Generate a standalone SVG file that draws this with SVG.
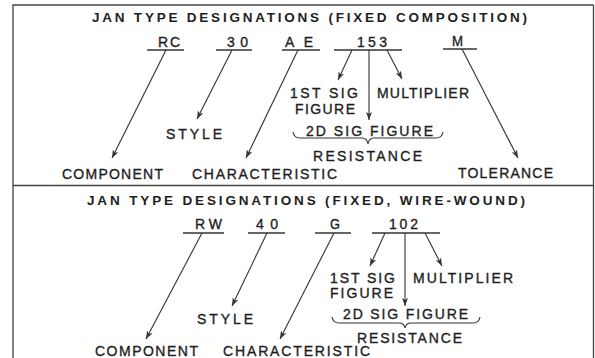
<svg xmlns="http://www.w3.org/2000/svg" width="595" height="358" viewBox="0 0 595 358">
<style>
text{font-family:"Liberation Sans",Arial,sans-serif;font-size:14px;fill:#1e1e1e;stroke:#1e1e1e;stroke-width:0.35;}
.title{font-size:13.5px;font-weight:bold;stroke-width:0;}
.ul{stroke:#333;stroke-width:1.3;fill:none;}
.frame{stroke:#444;stroke-width:1.3;fill:none;}
.conn line,.conn path{stroke:#333;stroke-width:1.1;fill:none;}
.brace{stroke:#333;stroke-width:1.1;fill:none;}
</style>
<defs>
<marker id="ah" markerUnits="userSpaceOnUse" markerWidth="10" markerHeight="8" refX="8" refY="3" orient="auto">
<path d="M0,0 L8,3 L0,6 L2,3 z" fill="#333"/>
</marker>
</defs>
<rect width="595" height="358" fill="#fff"/>
<g id="frame">
<path class="frame" d="M593.5,5 H13 V358"/>
<path class="frame" d="M593.5,5 V358"/>
<line class="frame" x1="13" y1="185.5" x2="594" y2="185.5"/>
</g>

<!-- Block 1 -->
<g id="title1"><text class="title" x="92" y="22" textLength="435" lengthAdjust="spacing">JAN TYPE DESIGNATIONS (FIXED COMPOSITION)</text></g>
<g id="code-RC"><text x="158" y="47" textLength="22" lengthAdjust="spacing">RC</text><line class="ul" x1="147" y1="50" x2="184" y2="50"/></g>
<g id="code-30"><text x="227" y="47" textLength="21" lengthAdjust="spacing">30</text><line class="ul" x1="216" y1="50" x2="252" y2="50"/></g>
<g id="code-AE"><text x="285" y="47" textLength="28" lengthAdjust="spacing">A E</text><line class="ul" x1="282" y1="50" x2="320" y2="50"/></g>
<g id="code-153"><text x="357" y="47" textLength="30" lengthAdjust="spacing">153</text><line class="ul" x1="334" y1="50" x2="402" y2="50"/></g>
<g id="code-M"><text x="452" y="46" textLength="11" lengthAdjust="spacingAndGlyphs">M</text><line class="ul" x1="443" y1="49" x2="477" y2="49"/></g>

<g id="lbl-style1"><text x="166" y="139" textLength="56" lengthAdjust="spacing">STYLE</text></g>
<g id="lbl-component1"><text x="62" y="179" textLength="101" lengthAdjust="spacing">COMPONENT</text></g>
<g id="lbl-characteristic1"><text x="192" y="179" textLength="145" lengthAdjust="spacing">CHARACTERISTIC</text></g>
<g id="lbl-tolerance1"><text x="458" y="178" textLength="95" lengthAdjust="spacing">TOLERANCE</text></g>
<g id="lbl-1st1"><text x="290" y="98" textLength="68" lengthAdjust="spacing">1ST SIG</text><text x="295" y="114" textLength="60" lengthAdjust="spacing">FIGURE</text></g>
<g id="lbl-mult1"><text x="377" y="98" textLength="92" lengthAdjust="spacing">MULTIPLIER</text></g>
<g id="lbl-2d1"><text x="306" y="136" textLength="127" lengthAdjust="spacing">2D SIG FIGURE</text>
<path class="brace" d="M293,132 Q294,138 300,138 H362 Q367,138 368,144 Q369,138 374,138 H436 Q442,138 443,132"/></g>
<g id="lbl-resistance1"><text x="313" y="161" textLength="109" lengthAdjust="spacing">RESISTANCE</text></g>

<!-- Block 2 -->
<g id="title2"><text class="title" x="87" y="205" textLength="438" lengthAdjust="spacing">JAN TYPE DESIGNATIONS (FIXED, WIRE-WOUND)</text></g>
<g id="code-RW"><text x="195" y="229" textLength="27" lengthAdjust="spacing">RW</text><line class="ul" x1="183" y1="233" x2="224" y2="233"/></g>
<g id="code-40"><text x="256" y="229" textLength="22" lengthAdjust="spacing">40</text><line class="ul" x1="248" y1="233" x2="285" y2="233"/></g>
<g id="code-G"><text x="330" y="229" textLength="10" lengthAdjust="spacingAndGlyphs">G</text><line class="ul" x1="315" y1="233" x2="351" y2="233"/></g>
<g id="code-102"><text x="389" y="229" textLength="29" lengthAdjust="spacing">102</text><line class="ul" x1="372" y1="233" x2="440" y2="233"/></g>

<g id="lbl-style2"><text x="197" y="324" textLength="56" lengthAdjust="spacing">STYLE</text></g>
<g id="lbl-component2"><text x="95" y="356" textLength="103" lengthAdjust="spacing">COMPONENT</text></g>
<g id="lbl-characteristic2"><text x="223" y="356" textLength="147" lengthAdjust="spacing">CHARACTERISTIC</text></g>
<g id="lbl-1st2"><text x="330" y="283" textLength="65" lengthAdjust="spacing">1ST SIG</text><text x="330" y="298" textLength="63" lengthAdjust="spacing">FIGURE</text></g>
<g id="lbl-mult2"><text x="413" y="283" textLength="100" lengthAdjust="spacing">MULTIPLIER</text></g>
<g id="lbl-2d2"><text x="343" y="319" textLength="125" lengthAdjust="spacing">2D SIG FIGURE</text>
<path class="brace" d="M332,317 Q333,323 339,323 H399 Q404,323 405,328 Q406,323 411,323 H473 Q479,323 480,317"/></g>
<g id="lbl-resistance2"><text x="357" y="343" textLength="105" lengthAdjust="spacing">RESISTANCE</text></g>

<g id="connectors" class="conn">
<line x1="166" y1="50" x2="112" y2="158" marker-end="url(#ah)"/>
<line x1="232" y1="50" x2="197" y2="119" marker-end="url(#ah)"/>
<line x1="298" y1="50" x2="246" y2="158" marker-end="url(#ah)"/>
<line x1="352" y1="50" x2="338" y2="80" marker-end="url(#ah)"/>
<line x1="369" y1="50" x2="369" y2="120" marker-end="url(#ah)"/>
<line x1="387" y1="50" x2="402" y2="79" marker-end="url(#ah)"/>
<line x1="462" y1="49" x2="518" y2="158" marker-end="url(#ah)"/>
<line x1="202" y1="233" x2="146" y2="339" marker-end="url(#ah)"/>
<line x1="267" y1="233" x2="232" y2="306" marker-end="url(#ah)"/>
<line x1="334" y1="233" x2="280" y2="339" marker-end="url(#ah)"/>
<line x1="385" y1="233" x2="370" y2="266" marker-end="url(#ah)"/>
<line x1="405" y1="233" x2="405" y2="306" marker-end="url(#ah)"/>
<line x1="425" y1="233" x2="442" y2="266" marker-end="url(#ah)"/>
</g>
</svg>
